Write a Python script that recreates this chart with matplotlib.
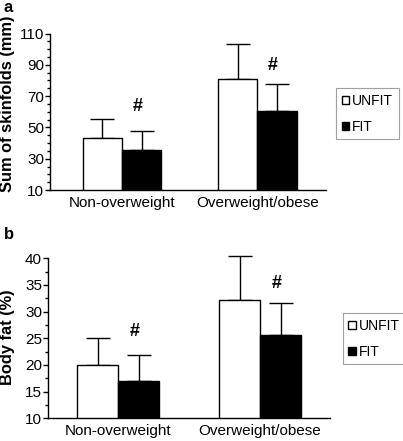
import matplotlib.pyplot as plt
from matplotlib.ticker import MultipleLocator
import numpy as np

plt.rcParams['font.family'] = ['Liberation Sans', 'DejaVu Sans']

groups = ['Non-overweight', 'Overweight/obese']
series = ['UNFIT', 'FIT']

# panel a: sum of skinfolds (mm)
skin_mean = {'UNFIT': [43.4, 81.0], 'FIT': [35.3, 60.6]}
skin_sd = {'UNFIT': [11.9, 22.6], 'FIT': [12.4, 17.0]}
skin_hash = [63.6, 89.8]
skin_ticks = [10, 30, 50, 70, 90, 110]

# panel b: body fat (%)
fat_mean = {'UNFIT': [19.9, 32.1], 'FIT': [16.9, 25.6]}
fat_sd = {'UNFIT': [5.1, 8.4], 'FIT': [4.9, 6.0]}
fat_hash = [26.2, 35.3]
fat_ticks = [10, 15, 20, 25, 30, 35, 40]

fig = plt.figure(figsize=(4.03, 4.41), dpi=100)
ax_a = fig.add_axes([0.124, 0.569, 0.685, 0.355])
ax_b = fig.add_axes([0.119, 0.0515, 0.701, 0.363])

colors = {'UNFIT': 'white', 'FIT': 'black'}
width = 0.29
x = np.arange(len(groups))


def panel(ax, means, sds, hashes, ticks, minor, ylabel, label_xy, xlim, leg_pos):
    for i, s in enumerate(series):
        xpos = x + (i - 0.5) * width
        ax.bar(xpos, means[s], width,
               color=colors[s], edgecolor='black', linewidth=1.0, label=s, zorder=2)
        eb = ax.errorbar(xpos, means[s], yerr=[np.zeros(len(groups)), sds[s]],
                         fmt='none', ecolor='black', elinewidth=1.0, capsize=8.5,
                         capthick=1.0, zorder=1)
        for art in eb.lines[1] + eb.lines[2]:
            art.set_clip_on(False)
    for j in range(len(groups)):
        ax.text(x[j] + 0.5 * width - 0.03, hashes[j], '#', ha='center', va='center',
                fontsize=13, fontweight='bold')
    ax.set_ylim(ticks[0], ticks[-1])
    ax.set_xlim(*xlim)
    ax.set_yticks(ticks)
    ax.yaxis.set_minor_locator(MultipleLocator(minor))
    ax.tick_params(axis='y', which='major', length=3.5, width=1, labelsize=11, pad=0.8)
    ax.tick_params(axis='y', which='minor', length=2.5, width=1)
    ax.set_xticks(x)
    ax.set_xticklabels(groups, fontsize=11)
    ax.tick_params(axis='x', length=0, pad=4)
    for sp in ['top', 'right']:
        ax.spines[sp].set_visible(False)
    for sp in ['left', 'bottom']:
        ax.spines[sp].set_linewidth(1.0)
    ax.set_ylabel(ylabel, fontsize=11.8, fontweight='bold')
    ax.yaxis.set_label_coords(*label_xy)
    leg = ax.legend(loc='upper left', bbox_to_anchor=leg_pos,
                    bbox_transform=fig.transFigure, fontsize=10,
                    handlelength=0.55, handleheight=0.55, handletextpad=0.2,
                    borderpad=0.4, labelspacing=0.85, fancybox=False,
                    borderaxespad=0)
    leg.get_frame().set_edgecolor('#888888')
    leg.get_frame().set_linewidth(0.8)


panel(ax_a, skin_mean, skin_sd, skin_hash, skin_ticks, 5,
      'Sum of skinfolds (mm)', (-0.126, 0.553), (-0.531, 1.506),
      (336 / 403, 1 - 88.3 / 441))
panel(ax_b, fat_mean, fat_sd, fat_hash, fat_ticks, 2.5,
      'Body fat (%)', (-0.116, 0.506), (-0.495, 1.496),
      (342.7 / 403, 1 - 313.3 / 441))

fig.text(4 / 403, 1 - 7 / 441, 'a', fontsize=12, fontweight='bold', va='center')
fig.text(4 / 403, 1 - 235 / 441, 'b', fontsize=12, fontweight='bold', va='center')

fig.savefig('out.png', dpi=100)
